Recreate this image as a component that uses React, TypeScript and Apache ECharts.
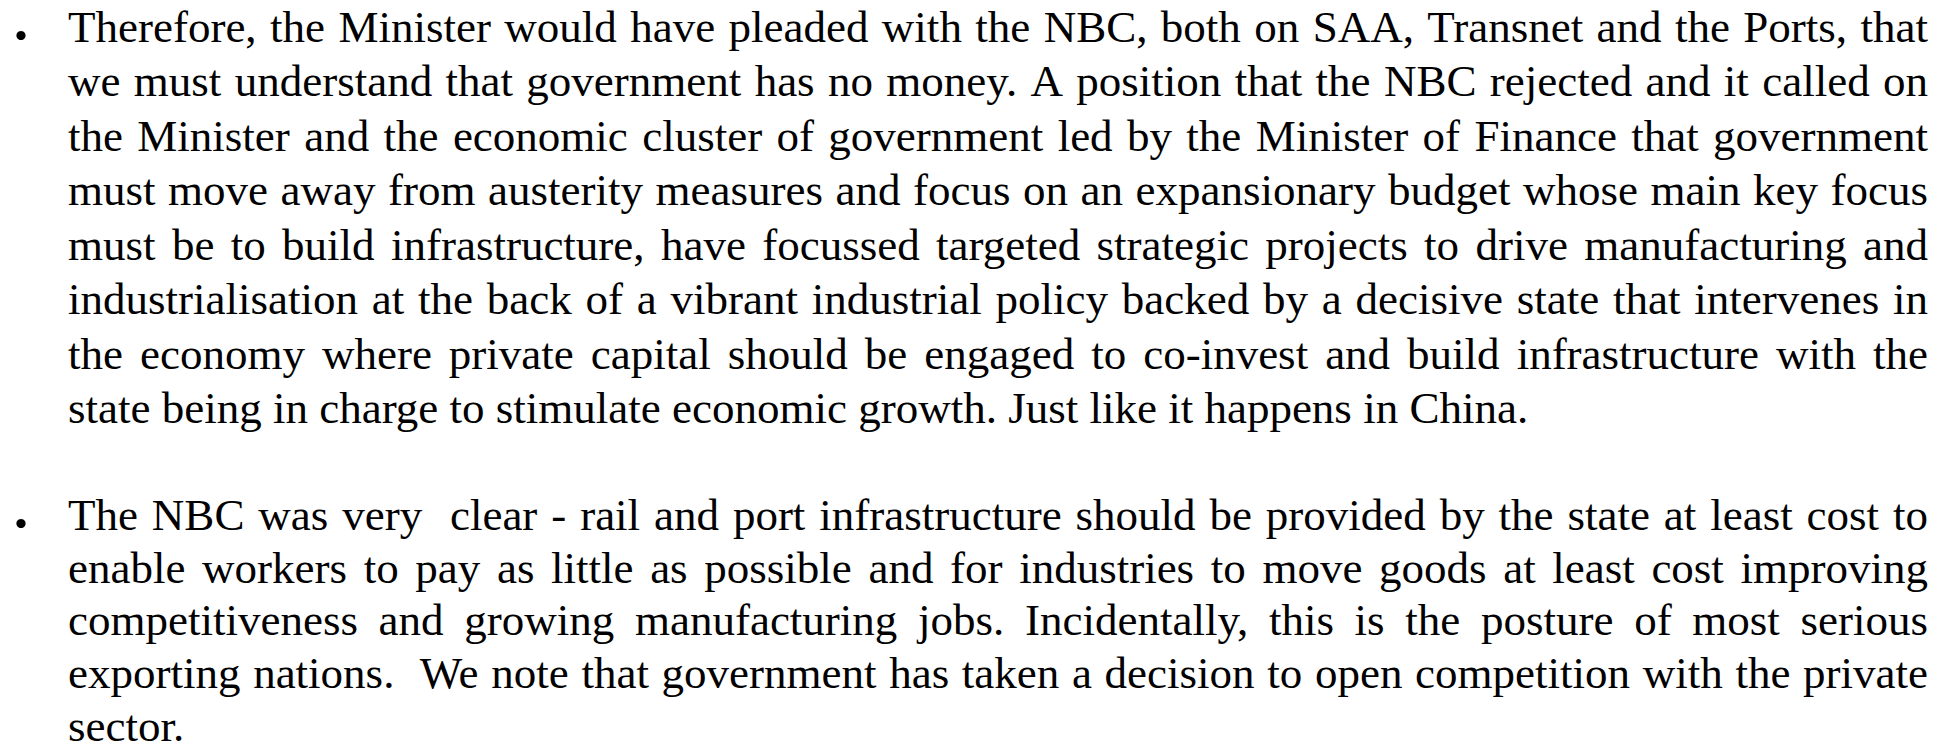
import React, { useEffect, useRef } from "react";
import * as echarts from "echarts";

const paragraph1Lines = [
  "Therefore, the Minister would have pleaded with the NBC, both on SAA, Transnet and the Ports, that",
  "we must understand that government has no money. A position that the NBC rejected and it called on",
  "the Minister and the economic cluster of government led by the Minister of Finance that government",
  "must move away from austerity measures and focus on an expansionary budget whose main key focus",
  "must be to build infrastructure, have focussed targeted strategic projects to drive manufacturing and",
  "industrialisation at the back of a vibrant industrial policy backed by a decisive state that intervenes in",
  "the economy where private capital should be engaged to co-invest and build infrastructure with the",
  "state being in charge to stimulate economic growth. Just like it happens in China.",
];

const paragraph2Lines = [
  "The NBC was very  clear - rail and port infrastructure should be provided by the state at least cost to",
  "enable workers to pay as little as possible and for industries to move goods at least cost improving",
  "competitiveness and growing manufacturing jobs. Incidentally, this is the posture of most serious",
  "exporting nations.  We note that government has taken a decision to open competition with the private",
  "sector.",
];

const paragraphs = [paragraph1Lines, paragraph2Lines];

const W = 1955;
const H = 751;
const FONT_SIZE = 45;
const FONT_FAMILY = "'Liberation Serif', 'Times New Roman', serif";
const TEXT_LEFT = 68;
const TEXT_RIGHT = 1928;
const PARA_BASELINES = [42, 530];
const PARA_STEPS = [54.5, 52.7];
const BULLET_X = 21;
const CENTER_OFFSET = -15.2;

export default function App() {
  const ref = useRef<HTMLDivElement>(null);
  useEffect(() => {
    const chart = echarts.init(ref.current as HTMLDivElement, null, { renderer: "svg" });
    const canvas = document.createElement("canvas");
    const ctx = canvas.getContext("2d") as CanvasRenderingContext2D;
    ctx.font = `${FONT_SIZE}px ${FONT_FAMILY}`;
    const textStyle = (text: string) => ({
      text,
      x: 0,
      y: CENTER_OFFSET,
      fill: "#000000",
      fontSize: FONT_SIZE,
      fontFamily: FONT_FAMILY,
      lineHeight: 32,
      align: "left",
      verticalAlign: "middle",
    });
    const elements: any[] = [];
    paragraphs.forEach((lines, p) => {
      const start = PARA_BASELINES[p];
      const step = PARA_STEPS[p];
      elements.push({
        type: "circle",
        shape: { cx: BULLET_X, cy: start - 6.5, r: 4.6 },
        style: { fill: "#000000" },
      });
      lines.forEach((line, i) => {
        const baseline = start + i * step;
        if (i === lines.length - 1) {
          elements.push({ type: "text", x: TEXT_LEFT, y: baseline, style: textStyle(line) });
          return;
        }
        const words = line.split(" ");
        const widths = words.map((w) => (w ? ctx.measureText(w).width : 0));
        const total = widths.reduce((a, b) => a + b, 0);
        const gap = (TEXT_RIGHT - TEXT_LEFT - total) / (words.length - 1);
        let x = TEXT_LEFT;
        words.forEach((w, k) => {
          if (w) elements.push({ type: "text", x, y: baseline, style: textStyle(w) });
          x += widths[k] + gap;
        });
      });
    });
    chart.setOption({
      animation: false,
      backgroundColor: "#ffffff",
      graphic: { elements },
    });
    return () => chart.dispose();
  }, []);
  return (
    <div
      ref={ref}
      style={{ position: "absolute", left: 0, top: 0, width: W, height: H, background: "#fff" }}
    />
  );
}
